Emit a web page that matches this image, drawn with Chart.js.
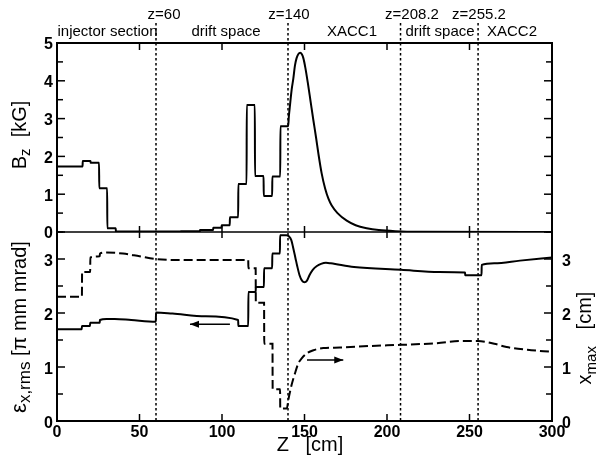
<!DOCTYPE html>
<html lang="en">
<head>
<meta charset="UTF-8">
<title>Bz, emittance and xmax along Z</title>
<script src="https://cdn.jsdelivr.net/npm/chart.js"></script>
<style>
  body { margin: 0; background: #fff; }
  canvas { display: block; }
</style>
</head>
<body>
<canvas id="beamChart" width="597" height="461"></canvas>
<script>
// top panel: Bz [kG] vs Z [cm]
const bzZ = [0, 15.5, 15.6, 20.3, 20.4, 25.5, 25.6, 30.4, 30.5, 35.6, 35.7, 74.9, 75, 86.6, 86.7, 94.6, 94.7,
  99.7, 99.8, 104.7, 104.8, 109.8, 109.9, 114.9, 115, 119.9, 120, 125.2, 125.3, 130.4, 130.5, 135.3, 135.4,
  140.1, 140.5, 141.2, 142.2, 143.2, 144.2, 145.2, 146.3, 147.4, 148.4, 149.3, 150.5, 152, 153.7, 155.4,
  157, 158.5, 160.4, 162.5, 164.5, 166.5, 170, 175.6, 181, 187.7, 195, 205, 220, 300];
const bzVal = [1.73, 1.73, 1.88, 1.88, 1.83, 1.83, 1.16, 1.16, 0.1, 0.1, 0.01, 0.01, 0.02, 0.02, 0.05, 0.05, 0.11,
  0.11, 0.18, 0.18, 0.39, 0.39, 1.27, 1.27, 3.36, 3.36, 1.48, 1.48, 0.95, 0.95, 1.47, 1.47, 2.8,
  2.8, 3.05, 3.35, 3.76, 4.05, 4.4, 4.6, 4.71, 4.74, 4.7, 4.6, 4.35, 3.95, 3.45, 2.95,
  2.5, 2.05, 1.55, 1.15, 0.88, 0.7, 0.5, 0.3, 0.18, 0.1, 0.05, 0.02, 0.005, 0];

// bottom panel, left axis: emittance eps_x,rms [pi mm mrad] (solid)
const emitZ = [0, 15, 15.1, 20, 20.1, 25.9, 26, 30, 35, 45, 59.9, 60, 70, 90, 109.8, 109.9, 115.9, 116,
  120.4, 120.5, 125.4, 125.5, 130.4, 130.5, 135.1, 135.2, 139, 140.5, 142, 143.2, 144.5, 145.5, 147, 148.5,
  150, 151.5, 153, 155, 157.5, 160, 163, 166, 180, 208.5, 231.5, 247.3, 247.4, 257.3, 257.4, 265, 280.6, 300];
const emitVal = [1.70, 1.70, 1.76, 1.76, 1.82, 1.82, 1.87, 1.89, 1.89, 1.87, 1.84, 2.01, 1.99, 1.94, 1.87, 1.76, 1.76, 2.39,
  2.39, 2.48, 2.48, 2.83, 2.83, 3.1, 3.1, 3.44, 3.44, 3.42, 3.35, 3.2, 3.02, 2.88, 2.7, 2.6,
  2.57, 2.6, 2.7, 2.8, 2.87, 2.91, 2.93, 2.92, 2.85, 2.8, 2.76, 2.75, 2.7, 2.7, 2.89, 2.92, 2.97, 3.03];

// bottom panel, right axis: xmax [cm] (dashed)
const xmaxZ = [0, 15.1, 15.2, 20.1, 20.2, 25.9, 26, 30, 40, 50, 60, 80, 115.9, 116, 120.4, 120.5, 125.5, 125.6,
  130.6, 130.7, 135.2, 135.3, 139.3, 140.2, 142.2, 144.2, 146.3, 148.3, 151.3, 155.4, 161.4, 171.5, 190,
  208.5, 230, 245, 255, 265, 272.5, 285, 300];
const xmaxVal = [2.3, 2.3, 2.76, 2.76, 3.03, 3.05, 3.1, 3.12, 3.1, 3.05, 3.0, 2.98, 2.98, 2.83, 2.83, 2.19, 2.19, 1.43,
  1.43, 0.59, 0.59, 0.23, 0.23, 0.39, 0.67, 0.88, 1.07, 1.16, 1.25, 1.31, 1.35, 1.36, 1.39,
  1.41, 1.44, 1.48, 1.48, 1.43, 1.37, 1.32, 1.28];

// section boundaries and names along the top
const zMarks = [60, 140, 208.2, 255.2];
const zMarkLabels = ['z=60', 'z=140', 'z=208.2', 'z=255.2'];
const sectionNames = ['injector section', 'drift space', 'XACC1', 'drift space', 'XACC2'];

const FONT = '"Liberation Sans", Arial, sans-serif';

function pts(xs, ys) {
  return xs.map((z, i) => ({ x: z, y: ys[i] }));
}

function richText(ctx, parts, cx, cy, angle) {
  ctx.save();
  ctx.translate(cx, cy);
  ctx.rotate(angle);
  let w = 0;
  parts.forEach(p => { ctx.font = p.font; w += ctx.measureText(p.text).width; });
  let px = -w / 2;
  ctx.textAlign = 'left';
  ctx.textBaseline = 'alphabetic';
  parts.forEach(p => {
    ctx.font = p.font;
    ctx.fillText(p.text, px, 7 + (p.dy || 0));
    px += ctx.measureText(p.text).width;
  });
  ctx.restore();
}

function seg(ctx, x1, y1, x2, y2) {
  ctx.beginPath();
  ctx.moveTo(x1, y1);
  ctx.lineTo(x2, y2);
  ctx.stroke();
}

function arrow(ctx, x1, y, x2) {
  const dir = Math.sign(x2 - x1);
  seg(ctx, x1, y, x2, y);
  ctx.beginPath();
  ctx.moveTo(x2, y);
  ctx.lineTo(x2 - dir * 9, y - 3.5);
  ctx.lineTo(x2 - dir * 9, y + 3.5);
  ctx.closePath();
  ctx.fill();
}

const decor = {
  id: 'decor',
  afterDatasetsDraw(chart) {
    const { ctx, chartArea: a, scales } = chart;
    const { x, yB, yE, yX } = scales;
    const mid = yB.getPixelForValue(0);
    ctx.save();
    ctx.strokeStyle = '#000';
    ctx.fillStyle = '#000';

    // section boundaries
    ctx.lineWidth = 1.5;
    ctx.setLineDash([2.5, 2.5]);
    zMarks.forEach(z => {
      const px = x.getPixelForValue(z);
      seg(ctx, px, 23, px, a.bottom);
    });
    ctx.setLineDash([]);

    // frame and panel divider
    ctx.lineWidth = 2;
    ctx.strokeRect(a.left, a.top, a.width, a.height);
    ctx.lineWidth = 1.5;
    seg(ctx, a.left, mid, a.right, mid);

    // inward ticks
    ctx.lineWidth = 1.5;
    for (let v = 0; v <= 5; v += 0.5) {
      const py = yB.getPixelForValue(v);
      const len = v % 1 === 0 ? 8 : 6;
      seg(ctx, a.left, py, a.left + len, py);
      seg(ctx, a.right - len, py, a.right, py);
    }
    for (let v = 0; v <= 3.5; v += 0.5) {
      const len = v % 1 === 0 ? 8 : 6;
      const pl = yE.getPixelForValue(v);
      const pr = yX.getPixelForValue(v);
      seg(ctx, a.left, pl, a.left + len, pl);
      seg(ctx, a.right - len, pr, a.right, pr);
    }
    x.ticks.forEach(t => {
      const px = x.getPixelForValue(t.value);
      seg(ctx, px, a.top, px, a.top + 7);
      seg(ctx, px, mid - 6, px, mid + 6);
      seg(ctx, px, a.bottom - 7, px, a.bottom);
    });

    // labels along the top
    ctx.font = '15px ' + FONT;
    ctx.textAlign = 'center';
    ctx.textBaseline = 'middle';
    const markPos = [164, 289, 412, 479];
    zMarkLabels.forEach((s, i) => ctx.fillText(s, markPos[i], 15));
    const namePos = [107.5, 226, 352, 440, 512];
    sectionNames.forEach((s, i) => ctx.fillText(s, namePos[i], 32));

    // arrows pointing at the axis of each curve
    ctx.lineWidth = 1.5;
    arrow(ctx, x.getPixelForValue(104.8), yE.getPixelForValue(1.79), x.getPixelForValue(80.6));
    arrow(ctx, x.getPixelForValue(151.5), yE.getPixelForValue(1.13), x.getPixelForValue(173.5));

    // axis titles
    const big = '20px ' + FONT;
    const sub = '15px ' + FONT;
    richText(ctx, [{ text: 'B', font: big }, { text: 'z', font: sub, dy: 4 }, { text: '  [kG]', font: big }],
      19, 135, -Math.PI / 2);
    richText(ctx, [{ text: 'ε', font: '22px ' + FONT }, { text: 'x,rms', font: '17px ' + FONT, dy: 4 },
      { text: ' [π mm mrad]', font: big }], 19, 327, -Math.PI / 2);
    richText(ctx, [{ text: 'x', font: big }, { text: 'max', font: sub, dy: 5 }, { text: '   [cm]', font: big }],
      584, 338, -Math.PI / 2);
    richText(ctx, [{ text: 'Z   [cm]', font: big }], 310, 444, 0);
    ctx.restore();
  }
};

const tickFont = { family: FONT, size: 16, weight: 'bold' };
const noGrid = { display: false, drawTicks: false, tickLength: 0 };
const noBorder = { display: false };
const lineStyle = { borderColor: '#000', backgroundColor: '#000', borderWidth: 2, pointRadius: 0, fill: false,
  cubicInterpolationMode: 'monotone' };

new Chart(document.getElementById('beamChart'), {
  type: 'line',
  data: {
    datasets: [
      { label: 'Bz', data: pts(bzZ, bzVal), yAxisID: 'yB', ...lineStyle },
      { label: 'emittance', data: pts(emitZ, emitVal), yAxisID: 'yE', ...lineStyle },
      { label: 'xmax', data: pts(xmaxZ, xmaxVal), yAxisID: 'yX', ...lineStyle, borderDash: [9, 4] }
    ]
  },
  options: {
    responsive: false,
    animation: false,
    devicePixelRatio: 1,
    layout: { padding: { top: 43, left: 0, right: 0, bottom: 0 } },
    plugins: { legend: { display: false }, tooltip: { enabled: false }, colors: { enabled: false } },
    scales: {
      x: {
        type: 'linear', min: 0, max: 300,
        grid: noGrid, border: noBorder,
        ticks: { stepSize: 50, font: tickFont, color: '#000', padding: 2, maxRotation: 0, autoSkip: false },
        afterFit: s => { s.height = 40; }
      },
      yE: {
        type: 'linear', position: 'left', stack: 'left', stackWeight: 1, min: 0, max: 3.5,
        grid: noGrid, border: noBorder,
        ticks: { stepSize: 1, includeBounds: false, font: tickFont, color: '#000', padding: 4, autoSkip: false,
          labelOffset: 3 },
        afterFit: s => { s.width = 57; }
      },
      yB: {
        type: 'linear', position: 'left', stack: 'left', stackWeight: 1, min: 0, max: 5,
        grid: noGrid, border: noBorder,
        ticks: { stepSize: 1, font: tickFont, color: '#000', padding: 4, autoSkip: false, labelOffset: 2 },
        afterFit: s => { s.width = 57; }
      },
      yR: {
        type: 'linear', position: 'right', stack: 'right', stackWeight: 1, min: 0, max: 5,
        grid: noGrid, border: noBorder,
        ticks: { display: false },
        afterFit: s => { s.width = 45; }
      },
      yX: {
        type: 'linear', position: 'right', stack: 'right', stackWeight: 1, min: 0, max: 3.5,
        grid: noGrid, border: noBorder,
        ticks: { stepSize: 1, includeBounds: false, font: tickFont, color: '#000', padding: 10, autoSkip: false,
          labelOffset: 3 },
        afterFit: s => { s.width = 45; }
      }
    }
  },
  plugins: [decor]
});
</script>
</body>
</html>
